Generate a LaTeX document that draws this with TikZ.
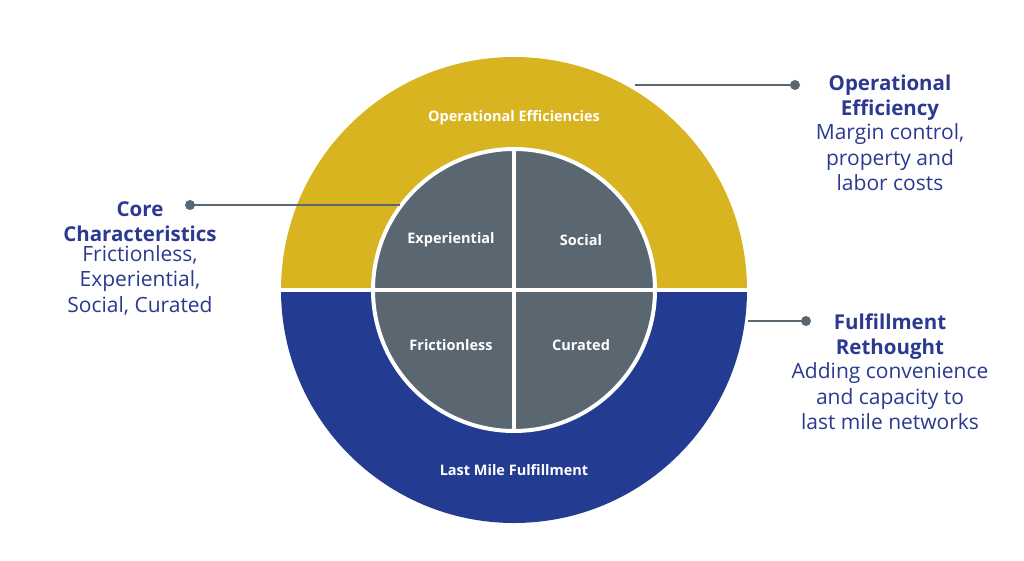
\documentclass[tikz,border=0pt]{standalone}
\usepackage{fontspec}
\setmainfont{Open Sans}
\usetikzlibrary{positioning}
\definecolor{ringgold}{HTML}{D9B421}
\definecolor{ringblue}{HTML}{233C92}
\definecolor{coregray}{HTML}{5A6670}
\definecolor{textblue}{HTML}{2B3990}
\definecolor{linegray}{HTML}{5A6670}
\tikzset{
  quad/.style={text=white,font=\fontsize{14.5}{16}\selectfont\bfseries},
  ringlabel/.style={text=white,font=\fontsize{14.5}{16}\selectfont\bfseries},
  head/.style={text=textblue,align=center,font=\fontsize{20.5}{25}\selectfont\bfseries},
  body/.style={text=textblue,align=center,font=\fontsize{21}{25.5}\selectfont},
  pin/.style={draw=linegray,line width=2.5pt},
}
\begin{document}
\begin{tikzpicture}[x=1pt,y=-1pt]
        \useasboundingbox (0,0) rectangle (1024,561);
        \coordinate (O) at (514,290);
		% rings
		\fill[ringblue] (O) ++(-233,0) arc[start angle=180,end angle=0,radius=233] -- cycle;
		\fill[ringgold] (O) ++(233,0) arc[start angle=0,end angle=-180,radius=233] -- cycle;
		\draw[white,line width=4pt] (275,290) -- (755,290);
		\filldraw[fill=coregray,draw=white,line width=4pt] (O) circle (141);
		\draw[white,line width=4pt] (514,149) -- (514,431);
		\draw[white,line width=4pt] (373,290) -- (655,290);
		\node[ringlabel] (ope) at (514,118) {Operational Efficiencies};
		\node[ringlabel] (lmf) at (514,470) {Last Mile Fulfillment};
		\node[quad] (exp) at (451,240) {Experiential};
		\node[quad] (soc) at (581,240) {Social};
		\node[quad] (fri) at (451,345) {Frictionless};
		\node[quad] (cur) at (581,345) {Curated};
		% callouts
		\node[head] (coreh) at (140,222) {Core\\Characteristics};
		\node[body,below=-4pt of coreh] {Frictionless,\\Experiential,\\Social, Curated};
		\node[head] (effh) at (890,98) {Operational\\Efficiency};
		\node[body,below=-4pt of effh] {Margin control,\\property and\\labor costs};
		\node[head] (fulh) at (890,337) {Fulfillment\\Rethought};
		\node[body,below=-4pt of fulh] {Adding convenience\\and capacity to\\last mile networks};
		\coordinate (coreend) at (400,205);
		\coordinate (effend) at (635,85);
		\coordinate (fulend) at (748,321);
		\fill[linegray] (190,205) circle (5) coordinate (coredot);
		\fill[linegray] (795,85) circle (5) coordinate (effdot);
		\fill[linegray] (806,321) circle (5) coordinate (fuldot);
		\draw[pin] (coredot) -- (coreend);
		\draw[pin] (effdot) -- (effend);
		\draw[pin] (fuldot) -- (fulend);
        \end{tikzpicture}
\end{document}
